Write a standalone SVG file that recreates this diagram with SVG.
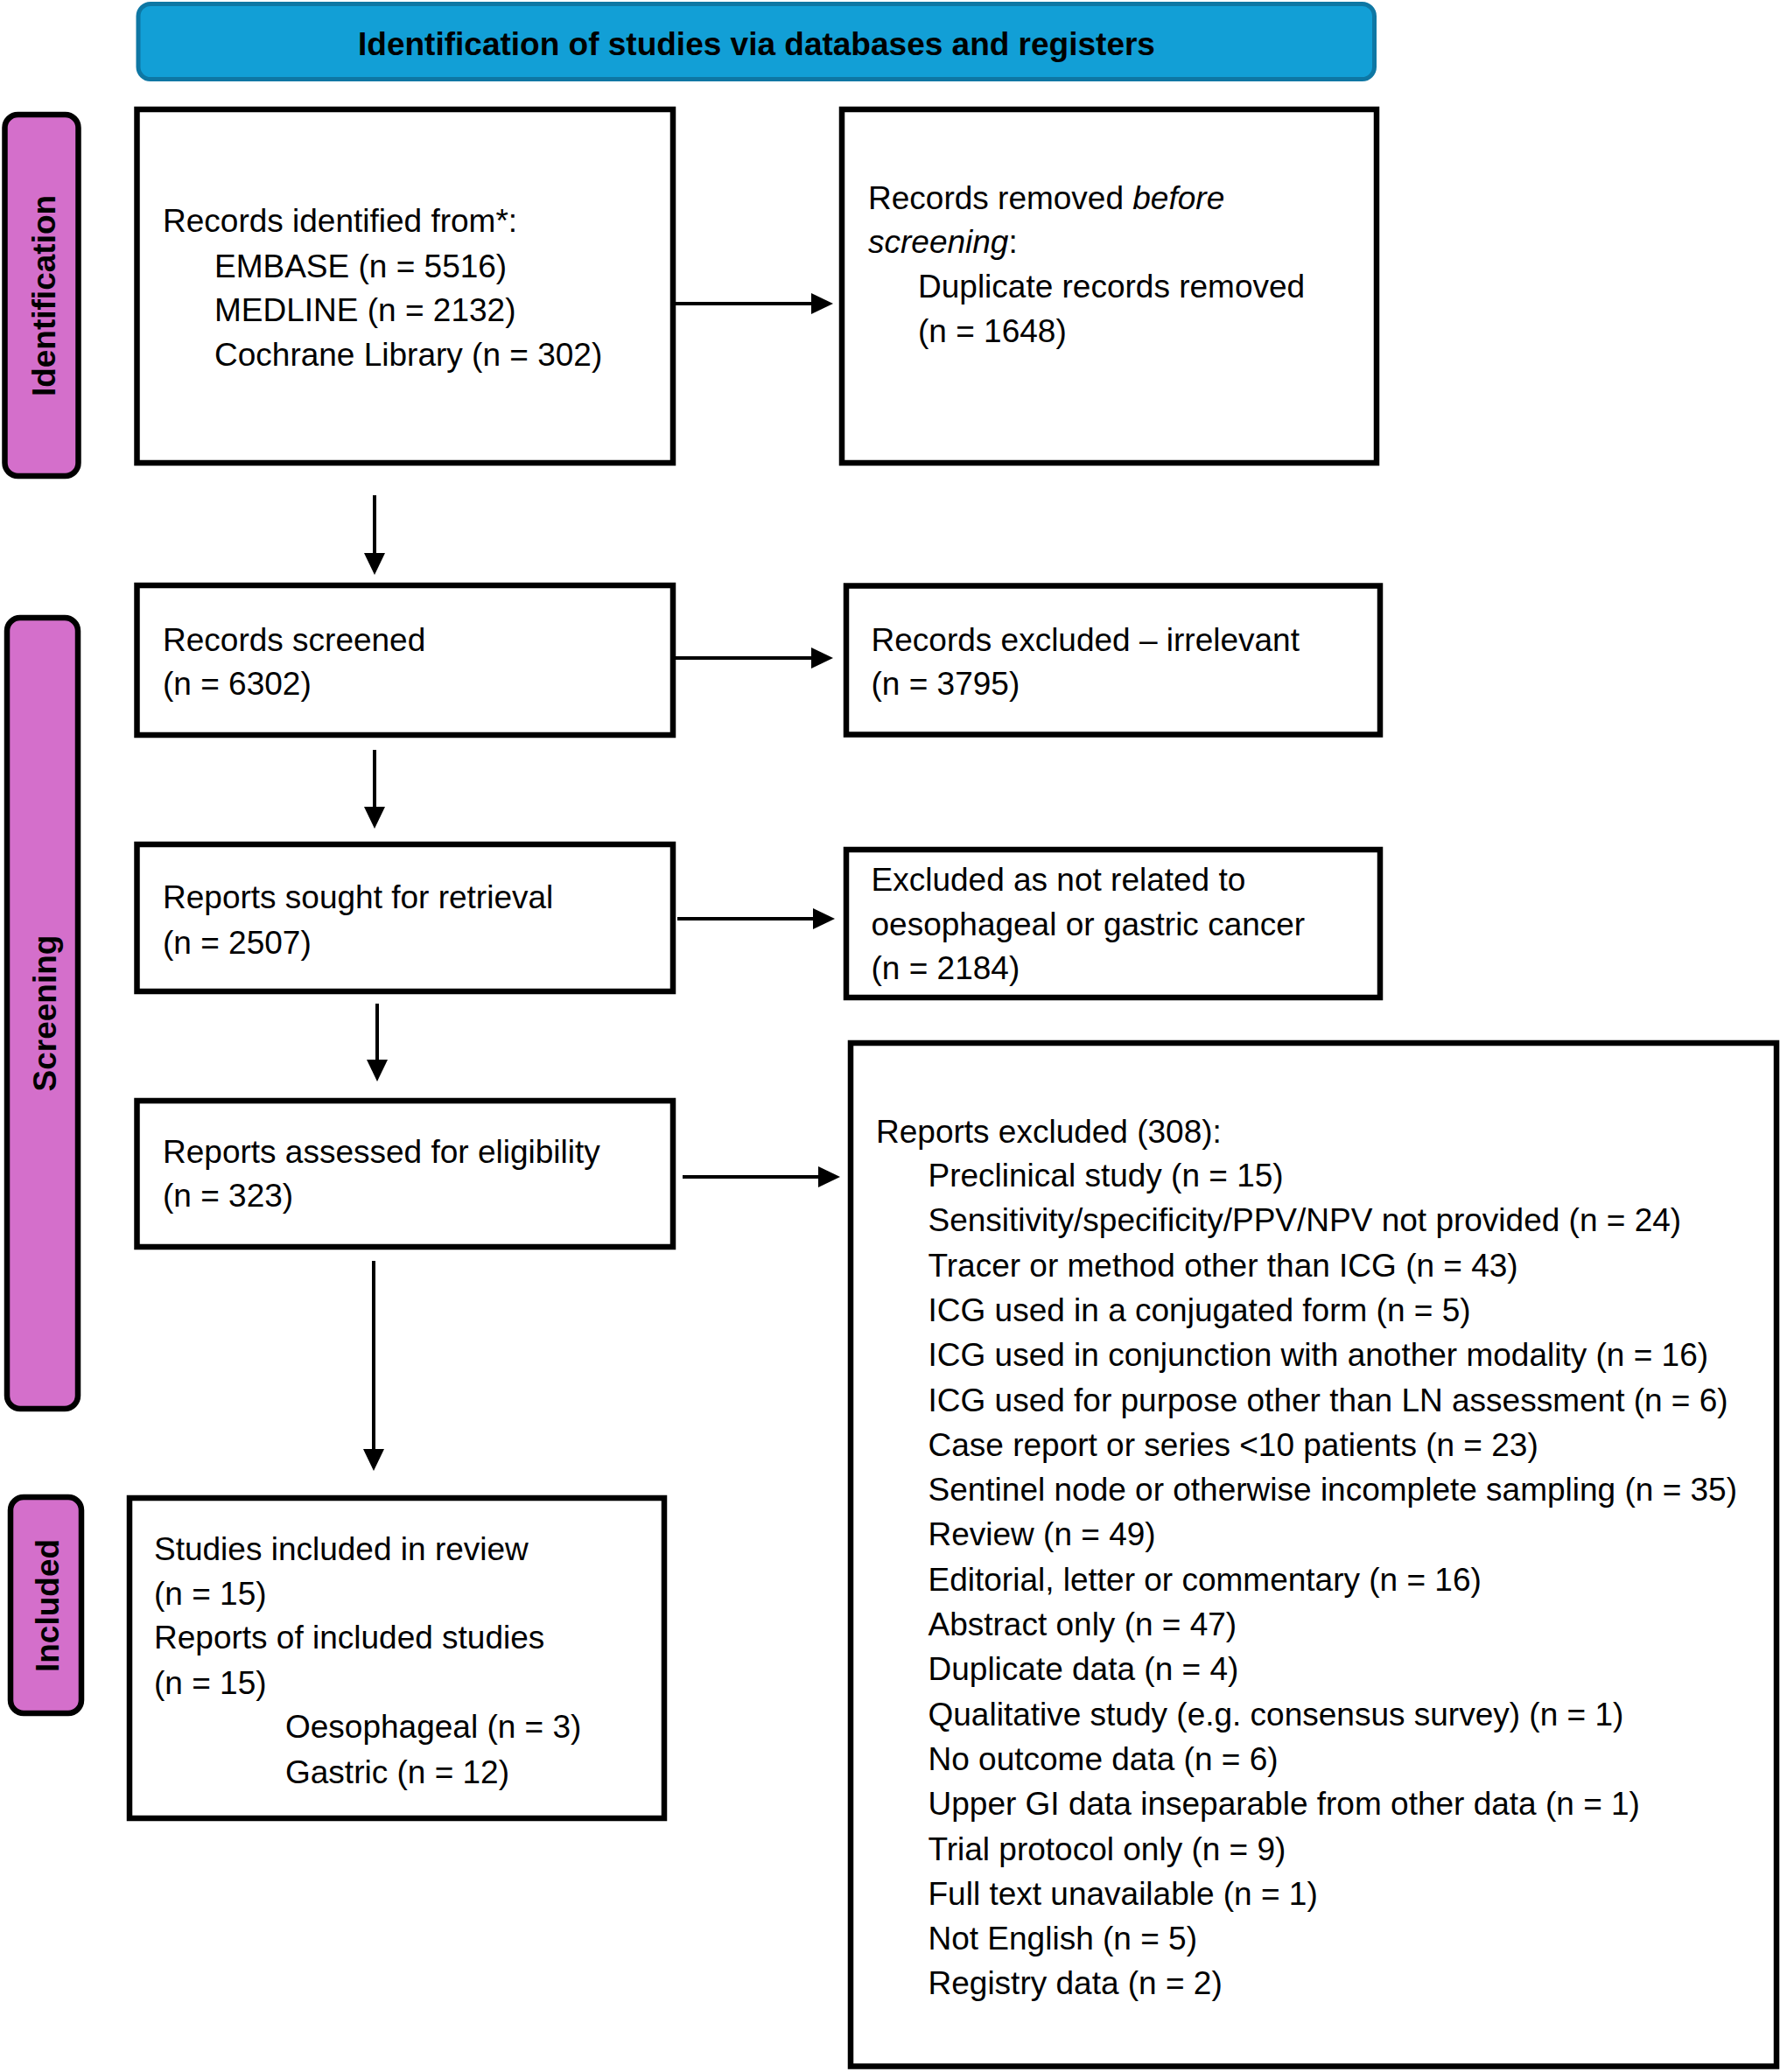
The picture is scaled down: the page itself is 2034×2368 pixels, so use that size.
<svg xmlns="http://www.w3.org/2000/svg" width="2034" height="2368" viewBox="0 0 2034 2368">
<defs>
<style>
.box{fill:#ffffff;stroke:#000000;stroke-width:6.5}
.tab{fill:#D46FCB;stroke:#000000;stroke-width:6.5}
.hdr{fill:#129FD6;stroke:#0E77A4;stroke-width:5}
.t{font-family:"Liberation Sans",Arial,sans-serif;font-size:37px;fill:#000000}
.tb{font-family:"Liberation Sans",Arial,sans-serif;font-size:37px;font-weight:bold;fill:#000000}
.conn{stroke:#000000;stroke-width:4;fill:none}
</style>
<marker id="ah" markerUnits="userSpaceOnUse" markerWidth="25" markerHeight="24" refX="1" refY="12" orient="auto">
<path d="M0,0 L25,12 L0,24 Z" fill="#000000"/>
</marker>
</defs>
<rect width="2034" height="2368" fill="#ffffff"/>

<g id="header">
<rect class="hdr" x="158" y="4.5" width="1412.5" height="86" rx="14"/>
<text class="tb" x="864.5" y="63" text-anchor="middle">Identification of studies via databases and registers</text>
</g>

<g id="tab-identification">
<rect class="tab" x="5.5" y="131" width="84" height="413" rx="15"/>
<text class="tb" text-anchor="middle" dominant-baseline="central" transform="translate(50,338) rotate(-90)">Identification</text>
</g>
<g id="tab-screening">
<rect class="tab" x="8" y="706" width="81" height="904" rx="15"/>
<text class="tb" text-anchor="middle" dominant-baseline="central" transform="translate(51,1158) rotate(-90)">Screening</text>
</g>
<g id="tab-included">
<rect class="tab" x="12" y="1711" width="81" height="247" rx="15"/>
<text class="tb" text-anchor="middle" dominant-baseline="central" transform="translate(54,1835) rotate(-90)">Included</text>
</g>

<g id="records-identified">
<rect class="box" x="156.5" y="125" width="612.5" height="404"/>
<text class="t" x="186" y="265">Records identified from*:</text>
<text class="t" x="245" y="316.5">EMBASE (n = 5516)</text>
<text class="t" x="245" y="367">MEDLINE (n = 2132)</text>
<text class="t" x="245" y="418">Cochrane Library (n = 302)</text>
</g>

<g id="records-removed">
<rect class="box" x="962" y="125" width="611" height="404"/>
<text class="t" x="992" y="239">Records removed <tspan font-style="italic">before</tspan></text>
<text class="t" x="992" y="289"><tspan font-style="italic">screening</tspan>:</text>
<text class="t" x="1049" y="340">Duplicate records removed</text>
<text class="t" x="1049" y="391">(n = 1648)</text>
</g>

<g id="records-screened">
<rect class="box" x="156.5" y="669" width="612.5" height="171"/>
<text class="t" x="186" y="744">Records screened</text>
<text class="t" x="186" y="794">(n = 6302)</text>
</g>

<g id="records-excluded">
<rect class="box" x="967" y="669.5" width="610" height="170"/>
<text class="t" x="995.5" y="744">Records excluded – irrelevant</text>
<text class="t" x="995.5" y="794">(n = 3795)</text>
</g>

<g id="reports-sought">
<rect class="box" x="156.5" y="965" width="612.5" height="168"/>
<text class="t" x="186" y="1038">Reports sought for retrieval</text>
<text class="t" x="186" y="1090">(n = 2507)</text>
</g>

<g id="excluded-not-related">
<rect class="box" x="967" y="971" width="610" height="169"/>
<text class="t" x="995.5" y="1018">Excluded as not related to</text>
<text class="t" x="995.5" y="1069">oesophageal or gastric cancer</text>
<text class="t" x="995.5" y="1119">(n = 2184)</text>
</g>

<g id="reports-assessed">
<rect class="box" x="156.5" y="1258" width="612.5" height="167"/>
<text class="t" x="186" y="1329">Reports assessed for eligibility</text>
<text class="t" x="186" y="1379">(n = 323)</text>
</g>

<g id="reports-excluded">
<rect class="box" x="972" y="1192" width="1058" height="1169.5"/>
<text class="t" x="1001" y="1306">Reports excluded (308):</text>
<text class="t" x="1060.5" y="1356">Preclinical study (n = 15)</text>
<text class="t" x="1060.5" y="1407.3">Sensitivity/specificity/PPV/NPV not provided (n = 24)</text>
<text class="t" x="1060.5" y="1458.6">Tracer or method other than ICG (n = 43)</text>
<text class="t" x="1060.5" y="1509.9">ICG used in a conjugated form (n = 5)</text>
<text class="t" x="1060.5" y="1561.2">ICG used in conjunction with another modality (n = 16)</text>
<text class="t" x="1060.5" y="1612.5">ICG used for purpose other than LN assessment (n = 6)</text>
<text class="t" x="1060.5" y="1663.8">Case report or series &lt;10 patients (n = 23)</text>
<text class="t" x="1060.5" y="1715.1">Sentinel node or otherwise incomplete sampling (n = 35)</text>
<text class="t" x="1060.5" y="1766.4">Review (n = 49)</text>
<text class="t" x="1060.5" y="1817.7">Editorial, letter or commentary (n = 16)</text>
<text class="t" x="1060.5" y="1869">Abstract only (n = 47)</text>
<text class="t" x="1060.5" y="1920.3">Duplicate data (n = 4)</text>
<text class="t" x="1060.5" y="1971.6">Qualitative study (e.g. consensus survey) (n = 1)</text>
<text class="t" x="1060.5" y="2022.9">No outcome data (n = 6)</text>
<text class="t" x="1060.5" y="2074.2">Upper GI data inseparable from other data (n = 1)</text>
<text class="t" x="1060.5" y="2125.5">Trial protocol only (n = 9)</text>
<text class="t" x="1060.5" y="2176.8">Full text unavailable (n = 1)</text>
<text class="t" x="1060.5" y="2228.1">Not English (n = 5)</text>
<text class="t" x="1060.5" y="2279.4">Registry data (n = 2)</text>
</g>

<g id="studies-included">
<rect class="box" x="148" y="1712" width="611" height="366"/>
<text class="t" x="176" y="1782.5">Studies included in review</text>
<text class="t" x="176" y="1833.5">(n = 15)</text>
<text class="t" x="176" y="1884">Reports of included studies</text>
<text class="t" x="176" y="1935.5">(n = 15)</text>
<text class="t" x="326" y="1986">Oesophageal (n = 3)</text>
<text class="t" x="326" y="2038">Gastric (n = 12)</text>
</g>

<g id="connectors">
<line class="conn" x1="772" y1="347" x2="928" y2="347" marker-end="url(#ah)"/>
<line class="conn" x1="772" y1="752" x2="928" y2="752" marker-end="url(#ah)"/>
<line class="conn" x1="774" y1="1050" x2="930" y2="1050" marker-end="url(#ah)"/>
<line class="conn" x1="780" y1="1345" x2="936" y2="1345" marker-end="url(#ah)"/>
<line class="conn" x1="428" y1="566" x2="428" y2="633" marker-end="url(#ah)"/>
<line class="conn" x1="428" y1="857" x2="428" y2="923" marker-end="url(#ah)"/>
<line class="conn" x1="431" y1="1147" x2="431" y2="1212" marker-end="url(#ah)"/>
<line class="conn" x1="427" y1="1441" x2="427" y2="1657" marker-end="url(#ah)"/>
</g>
</svg>
